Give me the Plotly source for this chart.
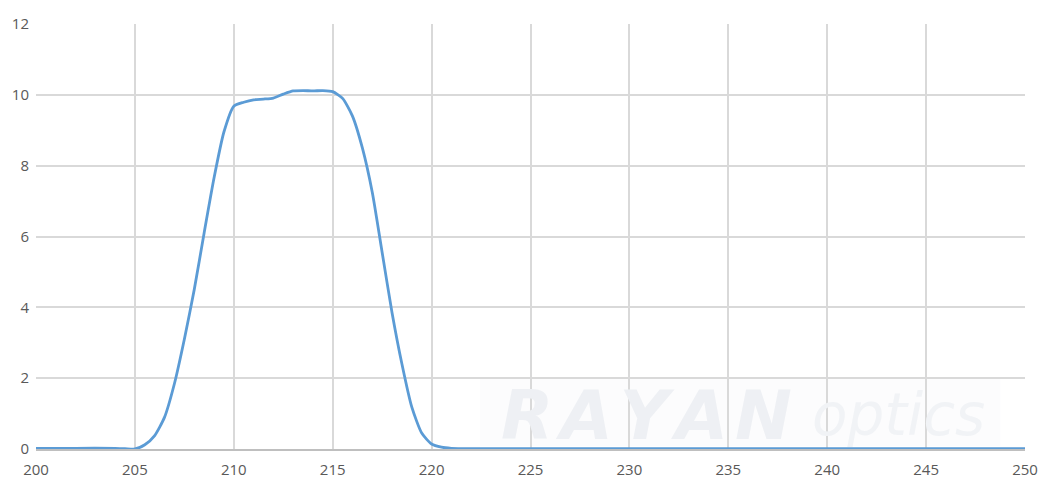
import plotly.graph_objects as go

wavelength_nm = [200, 202, 204, 204.5, 205, 205.5, 206, 206.5, 207, 207.5, 208, 208.5,
                 209, 209.5, 210, 210.5, 211, 211.5, 212, 212.5, 213, 213.5, 214, 214.5,
                 215, 215.5, 216, 216.5, 217, 217.5, 218, 218.5, 219, 219.5, 220, 220.5,
                 221, 222, 230, 240, 250]
transmission = [0.02, 0.02, 0.02, 0.01, 0.0, 0.12, 0.38, 0.9, 1.85, 3.1, 4.5, 6.1,
                7.65, 8.95, 9.68, 9.79, 9.86, 9.88, 9.91, 10.02, 10.11, 10.12, 10.11, 10.12,
                10.09, 9.9, 9.4, 8.5, 7.25, 5.55, 3.85, 2.4, 1.18, 0.45, 0.14, 0.05,
                0.02, 0.01, 0.01, 0.01, 0.01]

x_ticks = [200, 205, 210, 215, 220, 225, 230, 235, 240, 245, 250]
y_ticks = [0, 2, 4, 6, 8, 10, 12]

fig = go.Figure()
fig.add_trace(go.Scatter(
    x=wavelength_nm, y=transmission, mode="lines",
    line=dict(color="#5b9bd5", width=2.8, shape="spline", smoothing=0.6),
    hoverinfo="x+y", showlegend=False,
))

# faint watermark
fig.add_shape(type="rect", xref="paper", yref="paper", x0=0.449, x1=0.975, y0=0.007, y1=0.167,
              fillcolor="#fcfcfd", line=dict(width=0), layer="below")
fig.add_annotation(
    xref="paper", yref="paper", x=0.617, y=0.08, xanchor="center", yanchor="middle",
    text="<b><i>R\u200aA\u200aY\u200aA\u200aN</i></b>", showarrow=False,
    font=dict(family="DejaVu Sans", size=68, color="#eef0f4"),
)
fig.add_annotation(
    xref="paper", yref="paper", x=0.872, y=0.08, xanchor="center", yanchor="middle",
    text="<i>optics</i>", showarrow=False,
    font=dict(family="DejaVu Sans", size=58, color="#f1f3f6"),
)

fig.update_layout(
    width=1041, height=483,
    margin=dict(l=36, r=16, t=24, b=34, autoexpand=False),
    paper_bgcolor="white", plot_bgcolor="rgba(0,0,0,0)",
    font=dict(family="Open Sans", size=15, color="#595959"),
    xaxis=dict(range=[200, 250], tickvals=x_ticks, ticktext=[str(v) for v in x_ticks],
               showgrid=True, gridcolor="#d9d9d9", gridwidth=1.5, zeroline=False,
               showline=True, linecolor="#bfbfbf", linewidth=2, mirror=False,
               ticks="", ticklabelstandoff=6, automargin=False, fixedrange=True),
    yaxis=dict(range=[0, 12], tickvals=y_ticks, ticktext=[str(v) for v in y_ticks],
               showgrid=True, gridcolor="#d9d9d9", gridwidth=1.5, zeroline=False,
               showline=False, ticks="", ticklabelstandoff=6, automargin=False,
               fixedrange=True),
)

fig.write_html(
    "out.html",
    config={"displayModeBar": False},
    post_script="document.body.style.margin='0';document.body.style.overflow='hidden';",
)
